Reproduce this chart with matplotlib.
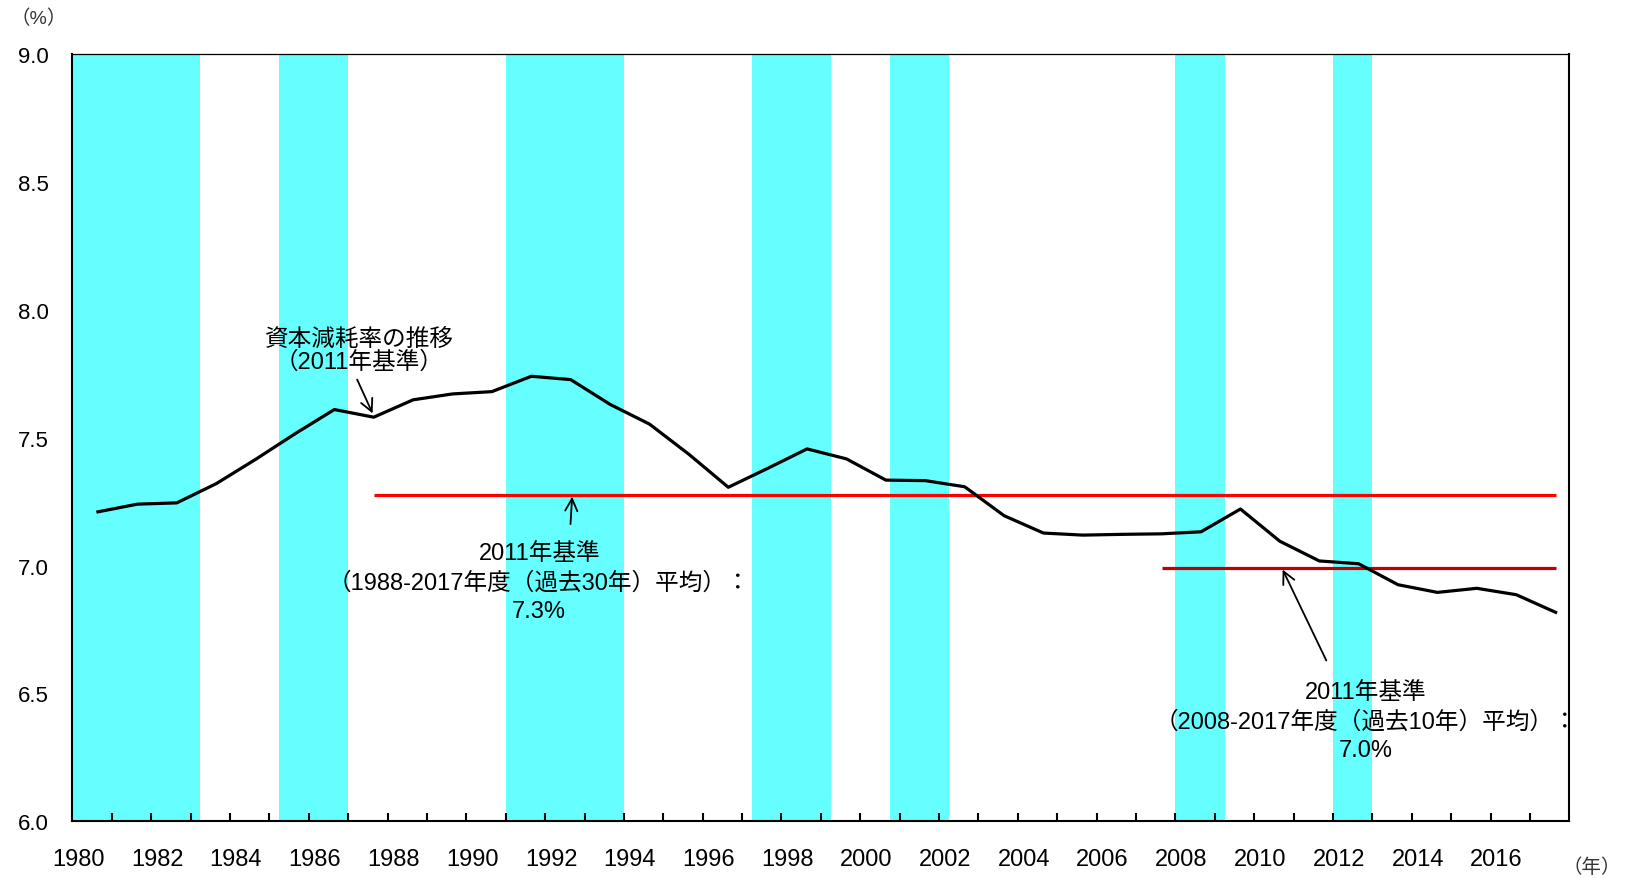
import matplotlib.pyplot as plt
from matplotlib.ticker import FormatStrFormatter
import numpy as np

# fiscal years and capital depreciation rate (2011 base), %
years = np.arange(1980, 2018)
rate = [7.21, 7.24, 7.245, 7.32, 7.415, 7.515, 7.61, 7.58, 7.648, 7.671,
        7.68, 7.74, 7.727, 7.63, 7.553, 7.435, 7.306, 7.38, 7.456, 7.417,
        7.334, 7.332, 7.308, 7.195, 7.127, 7.119, 7.122, 7.124, 7.132, 7.221,
        7.095, 7.018, 7.007, 6.925, 6.895, 6.911, 6.886, 6.817]

# recession periods (shaded), in decimal years
recessions = [(1980.0, 1983.25), (1985.25, 1987.0), (1991.0, 1994.0),
              (1997.25, 1999.25), (2000.75, 2002.25), (2008.0, 2009.25),
              (2012.0, 2013.0)]

avg30 = 7.276
avg30_span = (1987, 2017)
avg10 = 6.99
avg10_span = (2007, 2017)

label_years = np.arange(1980, 2017, 2)

jp = ['Liberation Sans', 'Noto Sans CJK JP']

fig = plt.figure(figsize=(16.26, 8.79), dpi=100)
ax = fig.add_axes([0.0445, 0.0645, 0.9207, 0.8729])

for a, b in recessions:
    ax.axvspan(a, b, color='#66FFFF', lw=0, zorder=0)

x = years + 0.65  # points sit right of the category centre
ax.plot(x, rate, color='k', lw=2.3, zorder=3)
ax.hlines(avg30, avg30_span[0] + 0.65, avg30_span[1] + 0.65, color='#FF0000', lw=2.3, zorder=2)
ax.hlines(avg10, avg10_span[0] + 0.65, avg10_span[1] + 0.65, color='#C00000', lw=2.3, zorder=2)

ax.set_xlim(1980, 2018)
ax.set_ylim(6, 9)

ax.set_yticks(np.arange(6, 9.01, 0.5))
ax.yaxis.set_major_formatter(FormatStrFormatter('%.1f'))
ax.tick_params(axis='y', length=0, pad=17, labelsize=16)
for t in ax.get_yticklabels():
    t.set_family('Liberation Sans')

ax.set_xticks(label_years + 0.15)
ax.set_xticklabels([str(y) for y in label_years], family='Liberation Sans')
ax.tick_params(axis='x', which='major', length=0, pad=19, labelsize=17)
ax.set_xticks(np.arange(1981, 2018), minor=True)
ax.tick_params(axis='x', which='minor', direction='in', length=5.8, width=1.5)

for s in ['left', 'bottom', 'right']:
    ax.spines[s].set_linewidth(1.5)
ax.spines['top'].set_linewidth(0.9)

arrow = dict(arrowstyle='->', lw=1.3, color='k', mutation_scale=22)

ax.text(1987.28, 7.841, '資本減耗率の推移\n（2011年基準）', ha='center', va='center',
        fontsize=17, family=jp, linespacing=1.05)
ax.annotate('', xy=(1987.65, 7.585), xytext=(1987.20, 7.737), arrowprops=arrow)

ax.text(1991.85, 6.936, '2011年基準\n（1988-2017年度（過去30年）平均）：\n7.3%',
        ha='center', va='center', fontsize=17, family=jp, linespacing=1.4)
ax.annotate('', xy=(1992.69, 7.28), xytext=(1992.64, 7.151), arrowprops=arrow)

ax.text(2012.84, 6.392, '2011年基準\n（2008-2017年度（過去10年）平均）：\n7.0%',
        ha='center', va='center', fontsize=17, family=jp, linespacing=1.4)
ax.annotate('', xy=(2010.69, 6.994), xytext=(2011.86, 6.619), arrowprops=arrow)

fig.text(10 / 1626, 1 - 18.5 / 879, '（%）', ha='left', va='center',
         fontsize=14, family=jp, color='#333333')
fig.text(1621 / 1626, 1 - 868 / 879, '（年）', ha='right', va='center',
         fontsize=14, family=jp, color='#333333')

fig.savefig('out.png', dpi=100)
